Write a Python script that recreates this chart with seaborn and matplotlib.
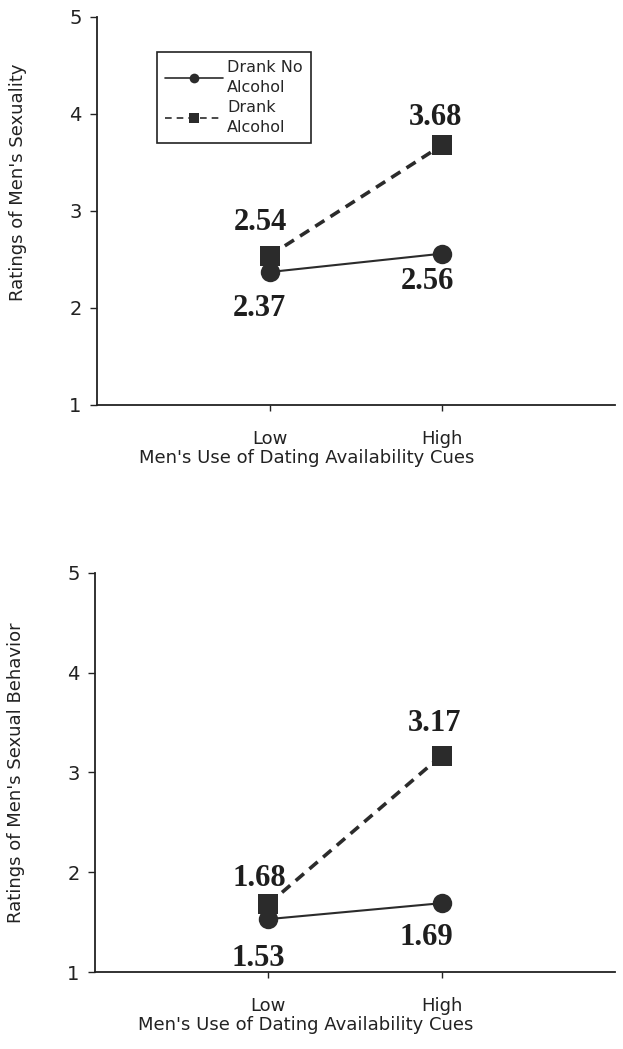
import matplotlib
matplotlib.use("Agg")
import matplotlib.pyplot as plt
import seaborn as sns
import pandas as pd
from matplotlib.lines import Line2D

# ---- data ----
cues = ["Low", "High"]
groups = ["Drank No\nAlcohol", "Drank\nAlcohol"]
sexuality_no_alc = [2.37, 2.56]
sexuality_alc = [2.54, 3.68]
behavior_no_alc = [1.53, 1.69]
behavior_alc = [1.68, 3.17]
yticks = [1, 2, 3, 4, 5]
ylabels = ["Ratings of Men's Sexuality", "Ratings of Men's Sexual Behavior"]
xlabel = "Men's Use of Dating Availability Cues"

sns.set_theme(style="ticks")
plt.rcParams['font.family'] = ['DejaVu Sans']

fig = plt.figure(figsize=(6.23, 10.49), dpi=100)
ax1 = fig.add_axes([0.1557, 0.614, 0.8313, 0.3698])
ax2 = fig.add_axes([0.1525, 0.0734, 0.8345, 0.3804])

dark = "#2b2b2b"
txt = "#222222"

def make_df(no_alc, alc):
    rows = []
    for i, c in enumerate(cues):
        rows.append({"x": i, "y": no_alc[i], "g": groups[0]})
        rows.append({"x": i, "y": alc[i], "g": groups[1]})
    return pd.DataFrame(rows)

# label offsets in pixels (dx, dy) for [no_alc low, no_alc high, alc low, alc high]
offs_top = [(-10, -36), (-15, -28), (-9, 33), (-7, 28)]
offs_bot = [(-10, -39), (-15, -34), (-9, 26), (-7, 32)]

for ax, no_alc, alc, ylab, offs, ylab_y, ax_h in [
    (ax1, sexuality_no_alc, sexuality_alc, ylabels[0], offs_top, 0.575, 388),
    (ax2, behavior_no_alc, behavior_alc, ylabels[1], offs_bot, 0.5, 399),
]:
    df = make_df(no_alc, alc)
    sns.lineplot(data=df, x="x", y="y", hue="g", style="g",
                 palette={groups[0]: dark, groups[1]: dark},
                 markers={groups[0]: "o", groups[1]: "s"},
                 dashes={groups[0]: "", groups[1]: (3, 2)},
                 markersize=14, markeredgewidth=0, ax=ax, legend=False)
    for ln, lw in zip(ax.get_lines(), [1.5, 2.6]):
        ln.set_linewidth(lw)
    vals = list(no_alc) + list(alc)
    xs = [0, 1, 0, 1]
    for (xv, yv, (dx, dy)) in zip(xs, vals, offs):
        ax.annotate(f"{yv:.2f}", (xv, yv), xytext=(dx, dy), textcoords="offset pixels",
                    ha="center", va="center", fontsize=22, fontweight="bold",
                    family="Liberation Serif", color="#1e1e1e")
    ax.set_xlim(-1, 2)
    ax.set_ylim(1, 5)
    ax.set_yticks(yticks)
    ax.set_yticklabels([str(t) for t in yticks], fontsize=14, color=txt)
    ax.set_xticks([0, 1])
    ax.set_xticklabels(cues, fontsize=13, color=txt)
    ax.set_xlabel(xlabel, fontsize=13, color=txt)
    ax.set_ylabel(ylab, fontsize=13, color=txt)
    ax.xaxis.set_label_coords(0.405, -44 / ax_h)
    ax.yaxis.set_label_coords(-0.135, ylab_y)
    ax.tick_params(axis="y", length=5, width=1, pad=6, color=txt)
    ax.tick_params(axis="x", length=4, width=1, pad=14, color=txt)
    for s in ["top", "right"]:
        ax.spines[s].set_visible(False)
    for s in ["left", "bottom"]:
        ax.spines[s].set_linewidth(1.3)
        ax.spines[s].set_color(txt)

handles = [
    Line2D([0], [0], color=dark, lw=1.2, marker="o", markersize=7, markeredgewidth=0),
    Line2D([0], [0], color=dark, lw=1.2, ls=(0, (4, 3)), marker="s", markersize=7, markeredgewidth=0),
]
leg = ax1.legend(handles, groups, loc="upper left", bbox_to_anchor=(0.116, 0.91),
                 borderaxespad=0,
                 fontsize=11.5, frameon=True, fancybox=False, edgecolor=txt,
                 handlelength=3.6, handletextpad=0.3, borderpad=0.5, labelspacing=0.3,
                 framealpha=1)
for t in leg.get_texts():
    t.set_linespacing(1.45)
leg.get_frame().set_linewidth(1.2)

fig.savefig("out.png", dpi=100)
